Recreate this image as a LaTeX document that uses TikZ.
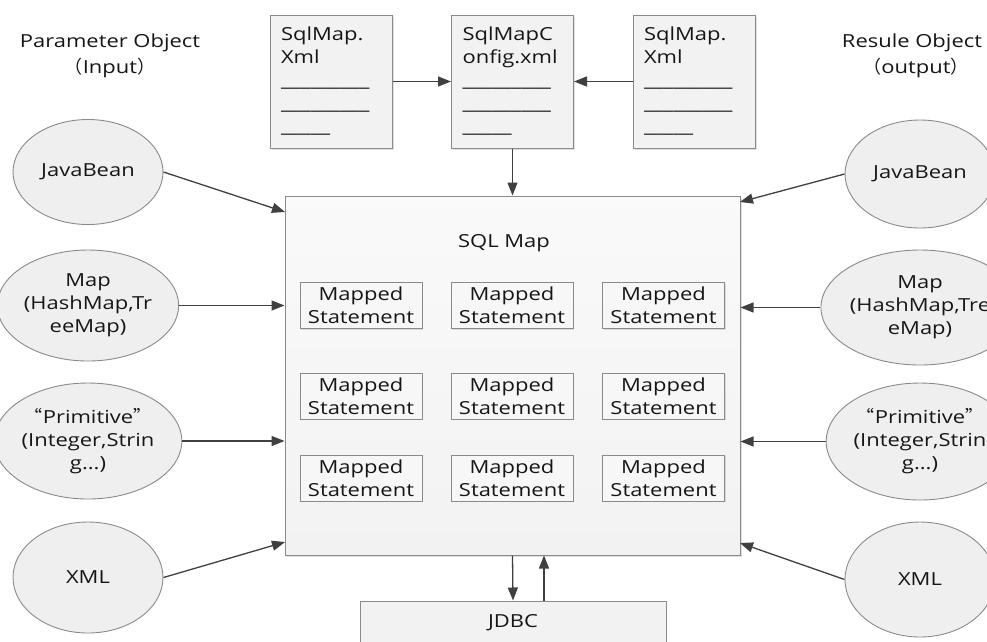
\documentclass[tikz,border=0pt]{standalone}
\usepackage{fontspec}
\setmainfont[FakeStretch=1.22]{Open Sans}
\newfontfamily\cjk{Noto Sans CJK SC}
\usetikzlibrary{arrows.meta,shapes.geometric,shadows,calc}
\definecolor{bordergray}{HTML}{8A8A8A}
\definecolor{boxfill}{HTML}{F2F2F2}
\definecolor{ellfill}{HTML}{EFEFEF}
\definecolor{arrowgray}{HTML}{404040}
\definecolor{txt}{HTML}{161616}
\tikzset{
  doc/.style={draw=bordergray, line width=1pt, fill=boxfill, minimum width=122pt, minimum height=133pt,
    text width=100pt, align=left, inner sep=0pt, text=txt,
    drop shadow={shadow xshift=1.5pt, shadow yshift=-1.5pt, opacity=0.25}},
  oval/.style={ellipse, draw=bordergray, line width=0.9pt, fill=ellfill, minimum width=150pt,
    inner sep=0pt, align=center, text=txt},
  mst/.style={draw=bordergray, line width=1pt, fill=boxfill!60!white, minimum width=122pt, minimum height=46pt,
    inner sep=0pt, align=center, text=txt,
    drop shadow={shadow xshift=1.2pt, shadow yshift=-1.2pt, opacity=0.25}},
  arr/.style={draw=arrowgray, line width=1.3pt, -{Triangle[length=13pt,width=10pt]}},
  lbl/.style={align=center, text=txt, inner sep=0pt}
}
\begin{document}
\begin{tikzpicture}[x=1pt,y=-1pt, font=\fontsize{18}{23}\selectfont]
\useasboundingbox (0,0) rectangle (987,641);
\clip (0,0) rectangle (987,641);
\fill[white] (0,0) rectangle (987,641);

% titles
\node[lbl] (tin1) at (110,43) {Parameter Object};
\node[lbl] (tin2) at (110,68) {{\cjk （}Input{\cjk ）}};
\node[lbl] (tout1) at (912,43) {Resule Object};
\node[lbl] (tout2) at (916,68) {{\cjk （}output{\cjk ）}};

% top documents
\node[doc] (d1) at (331,81.5) {SqlMap.\\Xml\\\_\_\_\_\_\_\_\_\_\\\_\_\_\_\_\_\_\_\_\\\_\_\_\_\_};
\node[doc] (d2) at (512.5,81.5) {SqlMapC\\onfig.xml\\\_\_\_\_\_\_\_\_\_\\\_\_\_\_\_\_\_\_\_\\\_\_\_\_\_};
\node[doc] (d3) at (694,81.5) {SqlMap.\\Xml\\\_\_\_\_\_\_\_\_\_\\\_\_\_\_\_\_\_\_\_\\\_\_\_\_\_};

% SQL Map box
\node[draw=bordergray, line width=1pt, top color=white!60!boxfill, bottom color=boxfill,
  minimum width=455pt, minimum height=359pt, inner sep=0pt,
  drop shadow={shadow xshift=1.5pt, shadow yshift=-1.5pt, opacity=0.25}] (sql) at (512.5,375.5) {};
\node[lbl] (sqltitle) at (504,243) {SQL Map};

% mapped statements
\foreach \c/\x in {1/361,2/512,3/663.5}{
  \foreach \r/\y in {1/305.5,2/396,3/478}{
    \node[mst] (m\r\c) at (\x,\y) {Mapped\\Statement};
  }
}

% JDBC
\node[draw=bordergray, line width=1pt, fill=boxfill, minimum width=306pt, minimum height=44pt,
  inner sep=0pt, text=txt] (jdbc) at (513,623) {JDBC};

% left ellipses
\node[oval, minimum height=105pt] (lj) at (88,172) {JavaBean};
\node[oval, minimum height=111pt] (lm) at (88,305.5) {Map\\(HashMap,Tr\\eeMap)};
\node[oval, minimum height=116pt] (lp) at (88,441) {{\cjk “}Primitive{\cjk ”}\\(Integer,Strin\\g...)};
\node[oval, minimum height=111pt] (lx) at (88,577.5) {XML};

% right ellipses
\node[oval, minimum height=108pt] (rj) at (920,174) {JavaBean};
\node[oval, minimum height=115pt] (rm) at (920,307.5) {Map\\(HashMap,Tre\\eMap)};
\node[oval, minimum height=117pt] (rp) at (920,441.5) {{\cjk “}Primitive{\cjk ”}\\(Integer,Strin\\g...)};
\node[oval, minimum height=115pt] (rx) at (920,579.5) {XML};

% connector end points on SQL Map border
\coordinate (sqlLj) at (285,212);
\coordinate (sqlLx) at (285,542);
\coordinate (sqlRj) at (740,202);
\coordinate (sqlRx) at (740,543);
\coordinate (upx) at (544,0);

% connectors
\draw[arr] (d1.east) -- (d2.west);
\draw[arr] (d3.west) -- (d2.east);
\draw[arr] (d2.south) -- (sql.north);

\draw[arr] (lj.east) -- (sqlLj);
\draw[arr] (lm.east) -- (sql.west |- lm.east);
\draw[arr] (lp.east) -- (sql.west |- lp.east);
\draw[arr] (lx.east) -- (sqlLx);

\draw[arr] (rj.west) -- (sqlRj);
\draw[arr] (rm.west) -- (sql.east |- rm.west);
\draw[arr] (rp.west) -- (sql.east |- rp.west);
\draw[arr] (rx.west) -- (sqlRx);

\draw[arr] (sql.south) -- (jdbc.north);
\draw[arr] (jdbc.north -| upx) -- (sql.south -| upx);
\end{tikzpicture}
\end{document}
